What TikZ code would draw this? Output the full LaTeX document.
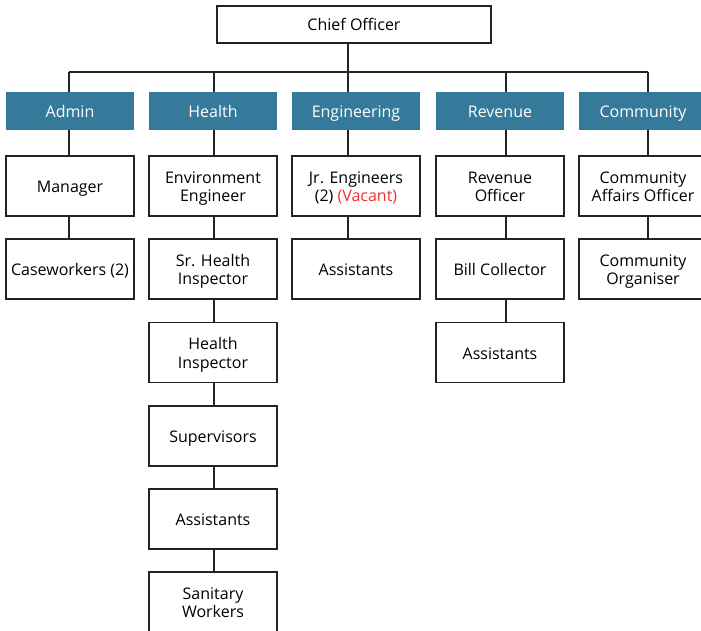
\documentclass[tikz,border=0pt]{standalone}
\usepackage{fontspec}
\setmainfont{Open Sans}
\usetikzlibrary{calc}
\definecolor{deptblue}{RGB}{53,122,155}
\definecolor{vacantred}{RGB}{238,48,48}
\definecolor{linegray}{RGB}{35,35,35}
\tikzset{
	post/.style={draw=linegray, line width=1.2pt, fill=white, minimum width=128pt, minimum height=60pt, inner sep=0pt, outer sep=0pt, align=center, text height=13pt, text depth=0pt, font=\fontsize{16}{18.3}\selectfont},
	twoline/.style={text height=31.3pt, text depth=0pt},
	dept/.style={fill=deptblue, text=white, minimum width=128pt, minimum height=38pt, inner sep=0pt, outer sep=0pt, text height=13.5pt, text depth=0pt, font=\fontsize{16}{18.3}\selectfont},
	link/.style={draw=linegray, line width=1.2pt}
}

\begin{document}
\begin{tikzpicture}[x=1pt,y=-1pt]
			%%%%% START %%%%%
			\useasboundingbox (0,0) rectangle (701,631);
			\clip (0,0) rectangle (701,631);
			
			\node[post, minimum width=274pt, minimum height=37pt] (chief) at (354,24.5) {Chief Officer};
			
			% line positions
			\coordinate (adminx) at (69,0);
			\coordinate (healthx) at (214,0);
			\coordinate (engx) at (348,0);
			\coordinate (revx) at (506,0);
			\coordinate (commx) at (648,0);
			\coordinate (busL) at (69,72);
			\coordinate (busR) at (648,72);
			
			% departments
			\node[dept] (admin) at (70,111) {Admin};
			\node[dept] (health) at (213,111) {Health};
			\node[dept] (eng) at (356,111) {Engineering};
			\node[dept] (rev) at (500,111) {Revenue};
			\node[dept] (comm) at (643,111) {Community};
			
			% admin
			\node[post] (manager) at (70,186) {Manager};
			\node[post] (casework) at (70,269) {Caseworkers (2)};
			
			% health
			\node[post, twoline] (envengr) at (213,186) {Environment\\Engineer};
			\node[post, twoline] (srinsp) at (213,269) {Sr. Health\\Inspector};
			\node[post, twoline] (inspector) at (213,352.5) {Health\\Inspector};
			\node[post] (supervisors) at (213,436) {Supervisors};
			\node[post] (hassist) at (213,519) {Assistants};
			\node[post, twoline] (sanitary) at (213,602) {Sanitary\\Workers};
			
			% engineering
			\node[post, twoline] (jreng) at (356,186) {Jr. Engineers\\(2) \textcolor{vacantred}{(Vacant)}};
			\node[post] (eassist) at (356,269) {Assistants};
			
			% revenue
			\node[post, twoline] (revoff) at (500,186) {Revenue\\Officer};
			\node[post] (billcoll) at (500,269) {Bill Collector};
			\node[post] (rassist) at (500,352.5) {Assistants};
			
			% community
			\node[post, twoline] (affairs) at (643,186) {Community\\Affairs Officer};
			\node[post, twoline] (organiser) at (643,269) {Community\\Organiser};
			
			% connectors
			\draw[link] (busL) -- (busR);
			\draw[link] (chief.south -| engx) -- (engx |- busL);
			\draw[link] (adminx |- busL) -- (admin.north -| adminx);
			\draw[link] (healthx |- busL) -- (health.north -| healthx);
			\draw[link] (engx |- busL) -- (eng.north -| engx);
			\draw[link] (revx |- busL) -- (rev.north -| revx);
			\draw[link] (commx |- busL) -- (comm.north -| commx);
			
			\draw[link] (admin.south -| adminx) -- (manager.north -| adminx);
			\draw[link] (manager.south -| adminx) -- (casework.north -| adminx);
			
			\draw[link] (health.south -| healthx) -- (envengr.north -| healthx);
			\draw[link] (envengr.south -| healthx) -- (srinsp.north -| healthx);
			\draw[link] (srinsp.south -| healthx) -- (inspector.north -| healthx);
			\draw[link] (inspector.south -| healthx) -- (supervisors.north -| healthx);
			\draw[link] (supervisors.south -| healthx) -- (hassist.north -| healthx);
			\draw[link] (hassist.south -| healthx) -- (sanitary.north -| healthx);
			
			\draw[link] (eng.south -| engx) -- (jreng.north -| engx);
			\draw[link] (jreng.south -| engx) -- (eassist.north -| engx);
			
			\draw[link] (rev.south -| revx) -- (revoff.north -| revx);
			\draw[link] (revoff.south -| revx) -- (billcoll.north -| revx);
			\draw[link] (billcoll.south -| revx) -- (rassist.north -| revx);
			
			\draw[link] (comm.south -| commx) -- (affairs.north -| commx);
			\draw[link] (affairs.south -| commx) -- (organiser.north -| commx);
			%%%%% END %%%%%
\end{tikzpicture}
\end{document}
